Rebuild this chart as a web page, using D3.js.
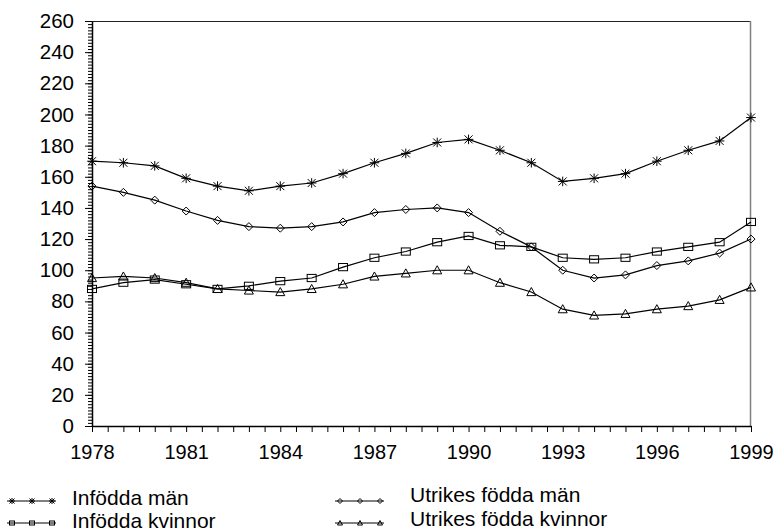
<!DOCTYPE html>
<html>
<head>
<meta charset="utf-8">
<script src="https://cdn.jsdelivr.net/npm/d3@7"></script>
<style>
  body { margin: 0; background: #fff; }
  svg text { font-family: "Liberation Sans", Arial, sans-serif; fill: #000; }
</style>
</head>
<body>
<div id="chart"></div>
<script>
const width = 776;
const height = 532;

// Data
const years = d3.range(1978, 2000);
const infoddaMan = [170, 169, 167, 159, 154, 151, 154, 156, 162, 169, 175, 182, 184, 177, 169, 157, 159, 162, 170, 177, 183, 198];
const utrikesMan = [154, 150, 145, 138, 132, 128, 127, 128, 131, 137, 139, 140, 137, 125, 115, 100, 95, 97, 103, 106, 111, 120];
const infoddaKvinnor = [88, 92, 94, 91, 88, 90, 93, 95, 102, 108, 112, 118, 122, 116, 115, 108, 107, 108, 112, 115, 118, 131];
const utrikesKvinnor = [95, 96, 95, 92, 88, 87, 86, 88, 91, 96, 98, 100, 100, 92, 86, 75, 71, 72, 75, 77, 81, 89];
const yTickLabels = d3.range(0, 261, 20);
const xTickLabels = [1978, 1981, 1984, 1987, 1990, 1993, 1996, 1999];

const series = [
  { name: 'Infödda män', values: infoddaMan, marker: 'star' },
  { name: 'Infödda kvinnor', values: infoddaKvinnor, marker: 'square' },
  { name: 'Utrikes födda män', values: utrikesMan, marker: 'diamond' },
  { name: 'Utrikes födda kvinnor', values: utrikesKvinnor, marker: 'triangle' }
];

const x = d3.scaleLinear().domain([1978, 1999]).range([92, 751]);
const y = d3.scaleLinear().domain([0, 260]).range([426, 21]);

const svg = d3.select('#chart').append('svg')
  .attr('width', width)
  .attr('height', height);

// frame top + right
svg.append('line')
  .attr('x1', x(1978)).attr('x2', x(1999))
  .attr('y1', y(260) + 0.5).attr('y2', y(260) + 0.5)
  .attr('stroke', '#222').attr('stroke-width', 1);
svg.append('line')
  .attr('x1', x(1999) - 0.5).attr('x2', x(1999) - 0.5)
  .attr('y1', y(260)).attr('y2', y(0))
  .attr('stroke', '#808080').attr('stroke-width', 1.5);

// y minor ticks
svg.append('g')
  .attr('transform', `translate(${x(1978)},0)`)
  .call(d3.axisLeft(y).tickValues(d3.range(0, 261, 2)).tickSize(4).tickSizeOuter(0).tickFormat(''))
  .call(g => g.select('.domain').remove());

// y major axis
svg.append('g')
  .attr('class', 'y-axis')
  .attr('transform', `translate(${x(1978)},0)`)
  .call(d3.axisLeft(y).tickValues(yTickLabels).tickSize(7).tickSizeOuter(0).tickPadding(11))
  .call(g => g.selectAll('text').attr('font-size', 20.5))
  .call(g => g.select('.domain').attr('stroke-width', 1.5));

// x axis: a tick every half year, labels every third year
svg.append('g')
  .attr('class', 'x-axis')
  .attr('transform', `translate(0,${y(0)})`)
  .call(d3.axisBottom(x).tickValues(d3.range(1978, 1999.01, 0.5)).tickSize(6).tickSizeOuter(0).tickPadding(13)
    .tickFormat(v => xTickLabels.includes(v) ? String(v) : ''))
  .call(g => g.selectAll('text').attr('font-size', 20))
  .call(g => g.select('.domain').attr('stroke-width', 1.5));

svg.selectAll('.tick line').attr('stroke', '#000');

function drawMarker (sel, type, s) {
  if (type === 'star') {
    sel.append('path')
      .attr('d', `M${-s},${-s}L${s},${s}M${-s},${s}L${s},${-s}M0,${-s * 1.2}L0,${s * 1.2}M${-s * 1.2},0L${s * 1.2},0`)
      .attr('stroke', '#000').attr('stroke-width', 1).attr('fill', 'none');
  } else if (type === 'square') {
    sel.append('rect')
      .attr('x', -s).attr('y', -s * 0.8).attr('width', 2 * s).attr('height', 1.6 * s)
      .attr('stroke', '#000').attr('stroke-width', 1).attr('fill', 'none');
  } else if (type === 'diamond') {
    sel.append('path')
      .attr('d', `M0,${-s}L${s},0L0,${s}L${-s},0Z`)
      .attr('stroke', '#000').attr('stroke-width', 1).attr('fill', 'none');
  } else {
    sel.append('path')
      .attr('d', `M0,${-s}L${s},${s * 0.8}L${-s},${s * 0.8}Z`)
      .attr('stroke', '#000').attr('stroke-width', 1).attr('fill', 'none');
  }
}

const line = d3.line()
  .x((d, i) => x(years[i]))
  .y(d => y(d));

const markerSize = { star: 4, square: 4.5, diamond: 4, triangle: 4.5 };

series.forEach(s => {
  svg.append('path')
    .datum(s.values)
    .attr('d', line)
    .attr('fill', 'none')
    .attr('stroke', '#000')
    .attr('stroke-width', 1.2);

  svg.selectAll(null)
    .data(s.values)
    .enter()
    .append('g')
      .attr('transform', (d, i) => `translate(${x(years[i])},${y(d)})`)
      .each(function () { drawMarker(d3.select(this), s.marker, markerSize[s.marker]); });
});

// legend
const legendPos = [
  { lx: 7, tx: 72, ly: 501, ty: 505 },
  { lx: 7, tx: 72, ly: 523, ty: 528 },
  { lx: 335, tx: 410, ly: 501, ty: 502 },
  { lx: 335, tx: 410, ly: 523, ty: 526 }
];

series.forEach((s, i) => {
  const p = legendPos[i];
  const g = svg.append('g').attr('class', 'legend');
  g.append('line')
    .attr('x1', p.lx).attr('x2', p.lx + 49)
    .attr('y1', p.ly).attr('y2', p.ly)
    .attr('stroke', '#000').attr('stroke-width', 1);
  [5, 25, 45].forEach(dx => {
    const m = g.append('g').attr('transform', `translate(${p.lx + dx},${p.ly})`);
    drawMarker(m, s.marker, 2.5);
  });
  g.append('text')
    .attr('x', p.tx).attr('y', p.ty)
    .attr('font-size', 21)
    .text(s.name);
});
</script>
</body>
</html>
